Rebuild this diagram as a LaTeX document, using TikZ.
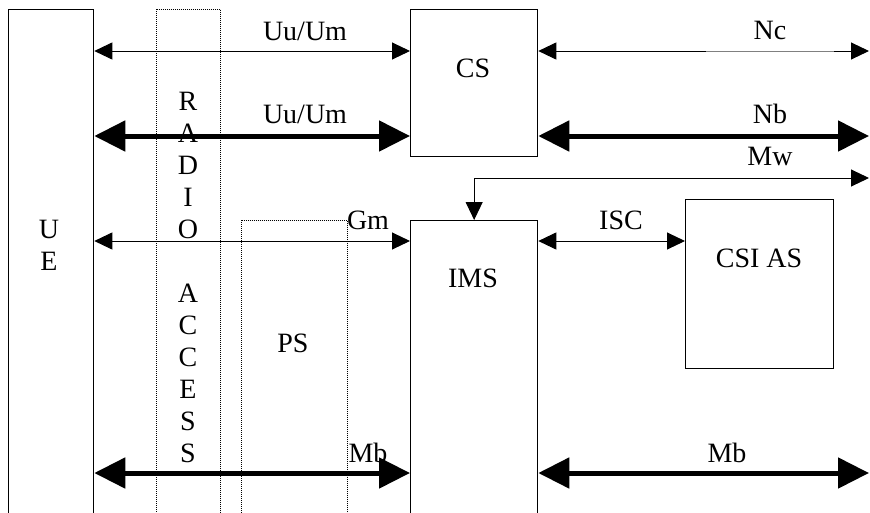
\documentclass[tikz,border=0pt]{standalone}
\usepackage{fontspec}
\setmainfont{Liberation Serif}
\usetikzlibrary{arrows.meta}
\tikzset{
  box/.style={draw, line width=1.3pt, inner sep=0, anchor=north west},
  area/.style={draw, line width=0.9pt, dash pattern=on 1pt off 1pt, inner sep=0, anchor=north west},
  lbl/.style={font=\fontsize{28}{32}\selectfont, inner sep=0, anchor=base},
  link/.style={line width=1pt, {Triangle[length=18pt,width=17pt]}-{Triangle[length=18pt,width=17pt]}},
  bear/.style={line width=5pt, {Triangle[length=31pt,width=30pt]}-{Triangle[length=31pt,width=30pt]}},
}

\begin{document}
\begin{tikzpicture}[x=1pt,y=-1pt]
\clip (0,0) rectangle (870,512);
\fill[white] (0,0) rectangle (870,512);

% boxes
\node[box, minimum width=85, minimum height=540] (ue) at (8,9) {};
\node[area, minimum width=64, minimum height=540] (radio) at (156,9) {};
\node[area, minimum width=106, minimum height=330] (ps) at (241,220) {};
\node[box, minimum width=127, minimum height=147] (cs) at (410,9) {};
\node[box, minimum width=127, minimum height=330] (ims) at (410,220) {};
\node[box, minimum width=148, minimum height=169] (csi) at (685,199) {};
\coordinate (rim) at (869,0);

% texts
\node[lbl] (u1) at (49,238) {U};
\node[lbl] (u2) at (49,270) {E};
\foreach \ch/\yy [count=\k] in {R/110,A/142,D/174,I/206,O/238,A/302,C/334,C/366,E/398,S/430,S/462}
  \node[lbl] (ra\k) at (188,\yy) {\ch};
\node[lbl] (cst) at (473,77) {CS};
\node[lbl] (imst) at (473,287) {IMS};
\node[lbl] (csit) at (759,267) {CSI AS};
\node[lbl] (pst) at (293,352) {PS};

\node[lbl] (uu1) at (305,40) {Uu/Um};
\node[lbl] (uu2) at (305,123) {Uu/Um};
\node[lbl] (gm) at (368,229) {Gm};
\node[lbl] (mb1) at (368,462) {Mb};
\node[lbl] (nc) at (770,39) {Nc};
\node[lbl] (nb) at (770,123) {Nb};
\node[lbl] (mw) at (770,165) {Mw};
\node[lbl] (isc) at (621,229) {ISC};
\node[lbl] (mb2) at (727,462) {Mb};

% interfaces
\draw[link] (ue.east |- 0,51) -- (cs.west |- 0,51);
\draw[bear] (ue.east |- 0,136) -- (cs.west |- 0,136);
\draw[link] (ue.east |- 0,241) -- (ims.west |- 0,241);
\draw[bear] (ue.east |- 0,473) -- (ims.west |- 0,473);

\draw[link] (cs.east |- 0,51) -- (rim |- 0,51);
\draw[white, line width=1.2pt] (706,51) -- (834,51);
\draw[gray, line width=0.6pt] (706,51) -- (834,51);
\draw[bear] (cs.east |- 0,136) -- (rim |- 0,136);
\draw[link] (rim |- 0,178) -| (ims.north);
\draw[link] (ims.east |- 0,241) -- (csi.west |- 0,241);
\draw[bear] (ims.east |- 0,473) -- (rim |- 0,473);

\end{tikzpicture}
\end{document}
